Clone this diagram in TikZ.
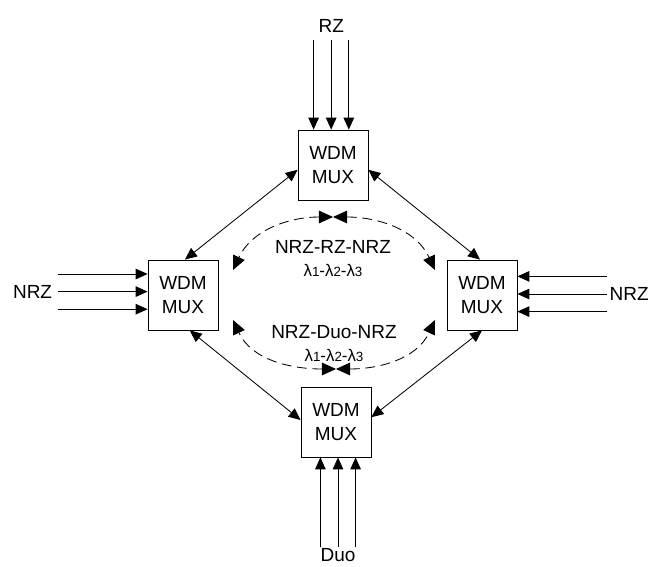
\documentclass[tikz,border=0pt]{standalone}
\usepackage{fontspec}
\setmainfont{Liberation Sans}
\usetikzlibrary{arrows.meta,positioning}

\newcommand{\lamline}{λ{\fontsize{9.5}{11}\selectfont 1}-λ{\fontsize{9.5}{11}\selectfont 2}-λ{\fontsize{9.5}{11}\selectfont 3}}

\begin{document}
\begin{tikzpicture}[line width=0.6pt, >={Triangle[length=8.5pt,width=7.5pt]},
    mux/.style={draw, shape=rectangle, minimum size=1.75cm, align=center,
        font=\fontsize{13.5}{16.5}\selectfont},
    lbl/.style={font=\fontsize{13.5}{15}\selectfont},
    wl/.style={font=\fontsize{12}{13}\selectfont},
    ring/.style={dash pattern=on 7pt off 4pt,
        {Triangle[length=10pt,width=9pt]}-{Triangle[length=10pt,width=9pt]}}]
    \useasboundingbox (0,0) rectangle (16.3,-14.175);
    % the four multiplexers
    \node[mux] at (8.325,-4.125) (top) {WDM\\MUX};
    \node[mux] at (4.575,-7.375) (left) {WDM\\MUX};
    \node[mux] at (12.05,-7.375) (right) {WDM\\MUX};
    \node[mux] at (8.4,-10.55) (bottom) {WDM\\MUX};
    % inputs
    \coordinate (rz) at (8.28,-1.0);
    \coordinate (nrzl) at (1.45,-7.29);
    \coordinate (nrzr) at (15.175,-7.35);
    \coordinate (duo) at (8.45,-13.675);
    \node[lbl, above=0.05cm of rz] (rzlbl) {RZ};
    \node[lbl, left=0.02cm of nrzl] (nrzllbl) {NRZ};
    \node[lbl, right=0.02cm of nrzr, inner xsep=1pt] (nrzrlbl) {NRZ};
    \node[lbl, below=0cm of duo, inner ysep=0.5pt] (duolbl) {Duo};
    \foreach \d in {-0.44,0,0.44} {
        \draw[->] ([xshift=\d cm]rz) -- ([xshift=\d cm]rz |- top.north);
        \draw[->] ([yshift=\d cm]nrzl) -- ([yshift=\d cm]nrzl -| left.west);
        \draw[->] ([yshift=\d cm]nrzr) -- ([yshift=\d cm]nrzr -| right.east);
        \draw[->] ([xshift=\d cm]duo) -- ([xshift=\d cm]duo |- bottom.south);
    }
    % ring links
    \draw[<->] ([xshift=0.05cm]left.north) -- ([yshift=-0.12cm]top.west);
    \draw[<->] ([yshift=-0.12cm]top.east) -- ([xshift=-0.05cm]right.north);
    \draw[<->] ([xshift=0.17cm]left.south) -- ([yshift=0.05cm]bottom.west);
    \draw[<->] ([yshift=0.12cm]bottom.east) -- (right.south);
    % wavelength paths
    \coordinate (tm) at (8.325,-5.425);
    \coordinate (tl) at (5.825,-6.75);
    \coordinate (tr) at (10.875,-6.75);
    \coordinate (bm) at (8.4,-9.225);
    \coordinate (bl) at (5.825,-8.0);
    \coordinate (br) at (10.875,-8.0);
    \draw[ring] (tm) to[out=180, in=65] (tl);
    \draw[ring] (tm) to[out=0, in=115] (tr);
    \draw[ring] (bm) to[out=180, in=-65] (bl);
    \draw[ring] (bm) to[out=0, in=-115] (br);
    \node[lbl] at (8.325,-6.175) (rzpath) {NRZ-RZ-NRZ};
    \node[wl, below=0.02cm of rzpath] {\lamline};
    \node[lbl] at (8.35,-8.3) (duopath) {NRZ-Duo-NRZ};
    \node[wl, below=0cm of duopath] {\lamline};
\end{tikzpicture}
\end{document}
